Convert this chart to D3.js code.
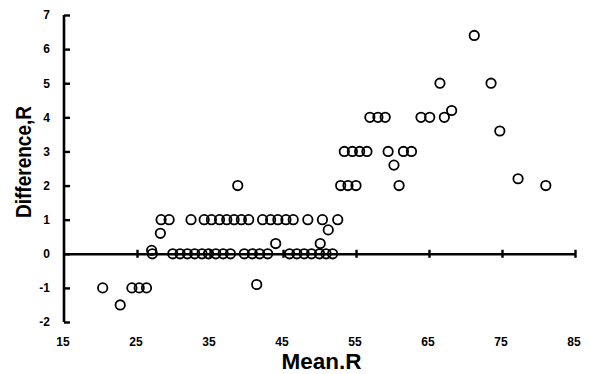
<!DOCTYPE html>
<html>
<head>
<meta charset="utf-8">
<script src="https://cdn.jsdelivr.net/npm/d3@7"></script>
<style>
  body { margin: 0; background: #fff; }
  text { font-family: "Liberation Sans", Arial, sans-serif; font-weight: bold; }
</style>
</head>
<body>
<div id="chart"></div>
<script>
// Bland-Altman style data: mean vs difference
const meanR = [
  20.3, 22.7, 24.3, 25.3, 26.3,
  27.0, 27.1, 28.2,
  28.3, 29.4, 32.4, 34.2, 35.2, 36.3, 37.3, 38.3, 39.3, 40.3, 42.2, 43.3, 44.3, 45.4, 46.4, 48.4, 50.4, 52.5,
  29.9, 30.9, 31.9, 32.9, 33.9, 34.8, 35.8, 36.8, 37.8, 39.7, 40.8, 41.8, 42.9, 45.9, 46.9, 47.9, 48.9, 50.0, 50.9, 51.8,
  44.0, 50.1, 51.2, 41.4, 38.8,
  52.9, 53.9, 55.0, 60.9,
  53.4, 54.5, 55.5, 56.5, 59.4, 61.5, 62.6,
  56.9, 58.0, 59.0, 63.9, 65.1, 67.1,
  68.1, 60.2, 66.5, 73.5, 71.2, 74.7, 77.2, 81.0
];
const diffR = [
  -1, -1.5, -1, -1, -1,
  0.1, 0, 0.6,
  1, 1, 1, 1, 1, 1, 1, 1, 1, 1, 1, 1, 1, 1, 1, 1, 1, 1,
  0, 0, 0, 0, 0, 0, 0, 0, 0, 0, 0, 0, 0, 0, 0, 0, 0, 0, 0, 0,
  0.3, 0.3, 0.7, -0.9, 2,
  2, 2, 2, 2,
  3, 3, 3, 3, 3, 3, 3,
  4, 4, 4, 4, 4, 4,
  4.2, 2.6, 5, 5, 6.4, 3.6, 2.2, 2
];
const xTicks = [15, 25, 35, 45, 55, 65, 75, 85];
const yTicks = [-2, -1, 0, 1, 2, 3, 4, 5, 6, 7];

const width = 589, height = 374;
const plot = { left: 64, right: 575, top: 15, bottom: 322 };

const x = d3.scaleLinear().domain([15, 85]).range([plot.left, plot.right]);
const y = d3.scaleLinear().domain([-2, 7]).range([plot.bottom, plot.top]);

const svg = d3.select('#chart').append('svg')
  .attr('width', width)
  .attr('height', height);

// Y axis with inward ticks
const yAxis = d3.axisRight(y).tickValues(yTicks).tickSize(6).tickFormat('');
const gy = svg.append('g').attr('transform', `translate(${plot.left},0)`).call(yAxis);
gy.select('.domain').attr('d', `M0,${plot.top}V${plot.bottom}`).attr('stroke-width', 2.6);
gy.selectAll('.tick line').attr('stroke-width', 2.4);

// Y tick labels
svg.append('g').selectAll('text')
  .data(yTicks)
  .enter()
  .append('text')
  .attr('x', 50)
  .attr('y', d => y(d))
  .attr('dy', '0.36em')
  .attr('text-anchor', 'end')
  .attr('font-size', 12)
  .text(d => d);

// X axis along zero line, ticks crossing it
const xAxis = d3.axisBottom(x).tickValues(xTicks.slice(1)).tickSizeInner(4).tickSizeOuter(0).tickFormat('');
const gx = svg.append('g').attr('transform', `translate(0,${y(0)})`).call(xAxis);
gx.select('.domain').attr('stroke-width', 2.6);
gx.selectAll('.tick line').attr('y1', -4).attr('stroke-width', 2.4);

// X tick labels sit below the plot
svg.append('g').selectAll('text')
  .data(xTicks)
  .enter()
  .append('text')
  .attr('x', d => x(d) - 1)
  .attr('y', 342)
  .attr('dy', '0.36em')
  .attr('text-anchor', 'middle')
  .attr('font-size', 12)
  .text(d => d);

// Axis titles
svg.append('text')
  .attr('x', (plot.left + plot.right) / 2 + 2)
  .attr('y', 369)
  .attr('text-anchor', 'middle')
  .attr('font-size', 22)
  .attr('textLength', 80)
  .attr('lengthAdjust', 'spacingAndGlyphs')
  .text('Mean.R');

svg.append('text')
  .attr('transform', 'translate(31,162) rotate(-90)')
  .attr('text-anchor', 'middle')
  .attr('font-size', 22)
  .attr('textLength', 112)
  .attr('lengthAdjust', 'spacingAndGlyphs')
  .text('Difference,R');

// Points
svg.append('g').selectAll('circle')
  .data(meanR.map((m, i) => ({ m, d: diffR[i] })))
  .enter()
  .append('circle')
  .attr('cx', p => x(p.m))
  .attr('cy', p => y(p.d))
  .attr('r', 4.7)
  .attr('fill', 'none')
  .attr('stroke', '#000')
  .attr('stroke-width', 1.8);
</script>
</body>
</html>
